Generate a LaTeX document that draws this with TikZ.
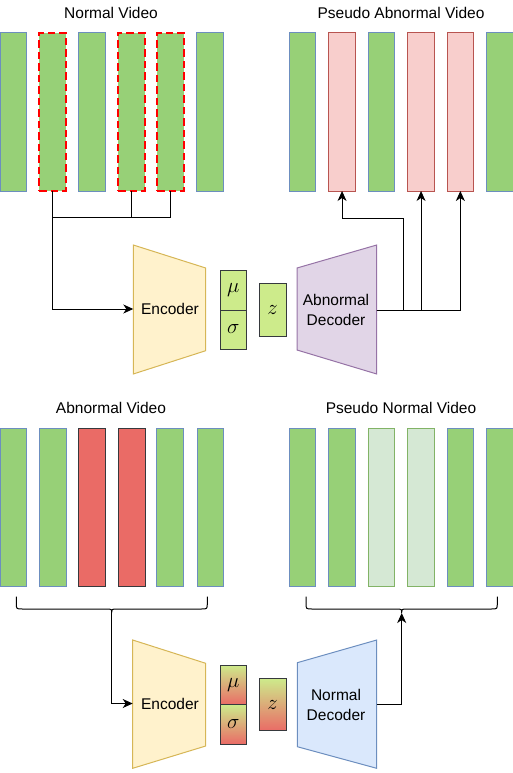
\documentclass[tikz,border=0pt]{standalone}
\usepackage{graphicx}
\usepackage{fontspec}
\setmainfont{Liberation Sans}
\usetikzlibrary{arrows.meta}
\definecolor{gfill}{HTML}{97D077}
\definecolor{bstroke}{HTML}{6C8EBF}
\definecolor{pinkfill}{HTML}{F8CECC}
\definecolor{pinkstroke}{HTML}{B85450}
\definecolor{redfill}{HTML}{EA6B66}
\definecolor{darkstroke}{HTML}{36393D}
\definecolor{palefill}{HTML}{D5E8D4}
\definecolor{palestroke}{HTML}{82B366}
\definecolor{latfill}{HTML}{CDEB8B}
\definecolor{encfill}{HTML}{FFF2CC}
\definecolor{encstroke}{HTML}{D6B656}
\definecolor{adecfill}{HTML}{E1D5E7}
\definecolor{adecstroke}{HTML}{9673A6}
\definecolor{ndecfill}{HTML}{DAE8FC}
\newcommand{\latsym}[1]{\scalebox{1.45}{$#1$}}
\begin{document}
\begin{tikzpicture}[x=1pt,y=-1pt,
  font=\fontsize{15.5}{19.3}\selectfont,
  frm/.style={draw=bstroke, fill=gfill, line width=1pt, minimum width=26.7pt, minimum height=158pt, inner sep=0pt, outer sep=0pt, anchor=north west},
  dashf/.style={frm, draw=red, line width=2pt, dash pattern=on 7.5pt off 4pt},
  pinkf/.style={frm, draw=pinkstroke, fill=pinkfill},
  redf/.style={frm, draw=darkstroke, fill=redfill},
  palef/.style={frm, draw=palestroke, fill=palefill},
  lat/.style={draw=darkstroke, fill=latfill, line width=1pt, minimum width=26.7pt, inner sep=0pt, outer sep=0pt, anchor=north west},
  latg/.style={lat, top color=latfill, bottom color=redfill},
  encs/.style={draw=encstroke, fill=encfill, line width=1pt},
  adecs/.style={draw=adecstroke, fill=adecfill, line width=1pt},
  ndecs/.style={draw=bstroke, fill=ndecfill, line width=1pt},
  conn/.style={line width=1pt, draw=black},
  arr/.style={conn, -{Stealth[length=10pt,width=9pt,inset=3pt]}},
  lbl/.style={inner sep=0pt}
]
\useasboundingbox (0,0) rectangle (512,773);

% ---------- top: Normal video ----------
\node[lbl] (lab1) at (111,13) {Normal Video};
\node[frm]   (a1) at (0,33) {};
\node[dashf] (a2) at (39.3,33) {};
\node[frm]   (a3) at (78.7,33) {};
\node[dashf] (a4) at (118,33) {};
\node[dashf] (a5) at (157.3,33) {};
\node[frm]   (a6) at (196.7,33) {};

% ---------- top: Pseudo abnormal video ----------
\node[lbl] (lab2) at (401,13) {Pseudo Abnormal Video};
\node[frm]   (b1) at (289,33) {};
\node[pinkf] (b2) at (328.7,33) {};
\node[frm]   (b3) at (368,33) {};
\node[pinkf] (b4) at (407.7,33) {};
\node[pinkf] (b5) at (447,33) {};
\node[frm]   (b6) at (486.7,33) {};

% ---------- top: encoder / latent / abnormal decoder ----------
\draw[encs] (133.3,245) -- (205.7,268) -- (205.7,350.7) -- (133.3,374) -- cycle;
\node[lbl] (enc1) at (170,309) {Encoder};
\coordinate (enc1in) at (133.3,309);
\node[lat, minimum height=40pt] (mu1) at (220,270) {\latsym{\mu}};
\node[lat, minimum height=39pt] (sg1) at (220,310) {\latsym{\sigma}};
\node[lat, minimum height=52.7pt] (z1) at (259.3,283.3) {\latsym{z}};
\draw[adecs] (297,268) -- (376.7,245) -- (376.7,374) -- (297,350) -- cycle;
\node[lbl, align=center] (dec1) at (336,310) {Abnormal\\Decoder};
\coordinate (dec1out) at (376.7,310);
\coordinate (j1) at (52.7,217.7);
\coordinate (j2) at (403,218.3);

\draw[conn] (a2.south) |- (a5.south |- j1) -- (a5.south);
\draw[conn] (a4.south) -- (a4.south |- j1);
\draw[arr] (a2.south) |- (enc1in);
\draw[arr] (dec1out) -| (b5.south);
\draw[arr] (dec1out) -| (b4.south);
\draw[arr] (dec1out) -| (j2) -| (b2.south);

% ---------- bottom: Abnormal video ----------
\node[lbl] (lab3) at (111,408) {Abnormal Video};
\node[frm]  (c1) at (0,428.3) {};
\node[frm]  (c2) at (39.3,428.3) {};
\node[redf] (c3) at (78.7,428.3) {};
\node[redf] (c4) at (118.3,428.3) {};
\node[frm]  (c5) at (156.3,428.3) {};
\node[frm]  (c6) at (197,428.3) {};

% ---------- bottom: Pseudo normal video ----------
\node[lbl] (lab4) at (401,408) {Pseudo Normal Video};
\node[frm]   (d1) at (289,428.3) {};
\node[frm]   (d2) at (328.7,428.3) {};
\node[palef] (d3) at (368,428.3) {};
\node[palef] (d4) at (407.3,428.3) {};
\node[frm]   (d5) at (447,428.3) {};
\node[frm]   (d6) at (486.3,428.3) {};

% braces
\coordinate (ltip) at (111.7,613);
\coordinate (rtip) at (401.7,613);
\draw[conn] (16.3,596.7) -- (16.3,603) .. controls (16.3,609) .. (22.3,609) -- (105.7,609)
  .. controls (111.7,609) .. (ltip) .. controls (111.7,609) .. (117.7,609) -- (201.3,609)
  .. controls (207.3,609) .. (207.3,603) -- (207.3,596.7);
\draw[conn] (306,596.7) -- (306,603) .. controls (306,609) .. (312,609) -- (395.7,609)
  .. controls (401.7,609) .. (rtip) .. controls (401.7,609) .. (407.7,609) -- (491.3,609)
  .. controls (497.3,609) .. (497.3,603) -- (497.3,596.7);

% ---------- bottom: encoder / latent / normal decoder ----------
\draw[encs] (132.7,640) -- (205.7,663.3) -- (205.7,746) -- (132.7,768.3) -- cycle;
\node[lbl] (enc2) at (170,703.5) {Encoder};
\coordinate (enc2in) at (132.7,703.5);
\node[latg, minimum height=39.7pt] (mu2) at (220,665) {\latsym{\mu}};
\node[latg, minimum height=39.3pt] (sg2) at (220,704.7) {\latsym{\sigma}};
\node[latg, minimum height=52.4pt] (z2) at (259.3,678.3) {\latsym{z}};
\draw[ndecs] (297.3,662.7) -- (376.7,640) -- (376.7,768.3) -- (297.3,746.7) -- cycle;
\node[lbl, align=center] (dec2) at (336,705) {Normal\\Decoder};
\coordinate (dec2out) at (376.7,704);

\draw[arr] (ltip) |- (enc2in);
\draw[arr] (dec2out) -| (rtip);
\end{tikzpicture}
\end{document}
